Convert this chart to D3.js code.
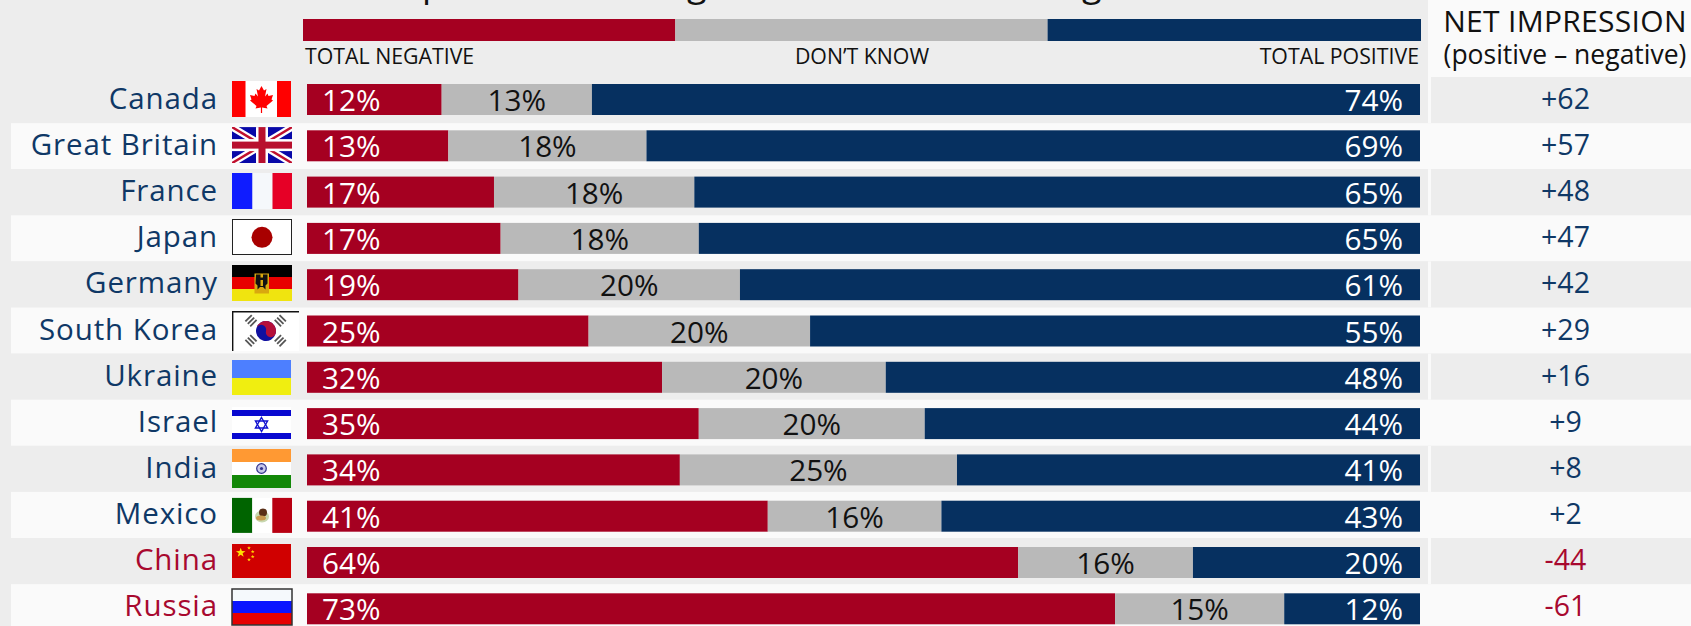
<!DOCTYPE html>
<html>
<head>
<meta charset="utf-8">
<script src="https://cdn.jsdelivr.net/npm/d3@7"></script>
<style>
html, body { margin: 0; padding: 0; background: #ededed; overflow: hidden; }
text { font-family: "Open Sans", sans-serif; }
</style>
</head>
<body>
<svg id="chart" width="1691" height="626"></svg>
<script>
var countries = ["Canada", "Great Britain", "France", "Japan", "Germany", "South Korea", "Ukraine", "Israel", "India", "Mexico", "China", "Russia"];
var negative = [12.1, 12.7, 16.8, 17.4, 19.0, 25.3, 31.9, 35.2, 33.5, 41.4, 63.9, 72.6];
var dontKnow = [13.5, 17.8, 18.0, 17.8, 19.9, 19.9, 20.1, 20.3, 24.9, 15.6, 15.7, 15.2];
var positive = [74.4, 69.5, 65.2, 64.8, 61.1, 54.8, 48.0, 44.5, 41.6, 43.0, 20.4, 12.2];
var negLabels = [12, 13, 17, 17, 19, 25, 32, 35, 34, 41, 64, 73];
var dkLabels = [13, 18, 18, 18, 20, 20, 20, 20, 25, 16, 16, 15];
var posLabels = [74, 69, 65, 65, 61, 55, 48, 44, 41, 43, 20, 12];
var net = [62, 57, 48, 47, 42, 29, 16, 9, 8, 2, -44, -61];
var legendValues = [33.3, 33.3, 33.4];
var legendLabels = ["TOTAL NEGATIVE", "DON\u2019T KNOW", "TOTAL POSITIVE"];

var RED = "#a50021", GREY = "#b9b9b9", BLUE = "#063060", NAVY = "#0f3866", DARKRED = "#a8092f";

var svg = d3.select("#chart");

var x = d3.scaleLinear().domain([0, 100]).range([307, 1420]);
var xLegend = d3.scaleLinear().domain([0, 100]).range([303, 1421]);
var yBand = d3.scaleBand().domain(countries).range([77, 77 + 12 * 46.1]);
var yBar = d3.scaleBand().domain(countries).range([84, 84 + 12 * 46.3]);
var barH = 31;

// top right white panel + white rows
svg.append("rect").attr("x", 1428).attr("y", 0).attr("width", 263).attr("height", 77).attr("fill", "#fafafa");

svg.selectAll(".row").data(countries).enter().append("rect")
    .attr("class", "row")
    .attr("x", 11).attr("y", function(d){ return yBand(d) })
    .attr("width", 1680).attr("height", yBand.bandwidth())
    .attr("fill", function(d, i){ return i % 2 ? "#fafafa" : "#ededed" });

// gap in front of net column on the grey rows
svg.selectAll(".gap").data(countries.filter(function(d, i){ return i % 2 == 0 })).enter().append("rect")
    .attr("class", "gap")
    .attr("x", 1428).attr("y", function(d){ return yBand(d) })
    .attr("width", 3).attr("height", yBand.bandwidth())
    .attr("fill", "#fafafa");

// title, cropped by the top of the picture: only these descenders show
[["p", 422], ["g", 687], ["g", 1082]].forEach(function(t){
    svg.append("text").attr("x", t[1]).attr("y", -4).attr("font-size", 36).attr("fill", "#111").text(t[0]);
});

// legend bar
var legendX = 0;
legendValues.forEach(function(v, i){
    svg.append("rect")
        .attr("x", xLegend(legendX)).attr("y", 19)
        .attr("width", xLegend(legendX + v) - xLegend(legendX)).attr("height", 22)
        .attr("fill", [RED, GREY, BLUE][i]);
    legendX += v;
});

svg.selectAll(".legendLabel").data(legendLabels).enter().append("text")
    .attr("class", "legendLabel")
    .attr("x", function(d, i){ return [305, 862, 1419][i] })
    .attr("y", 64)
    .attr("text-anchor", function(d, i){ return ["start", "middle", "end"][i] })
    .attr("font-size", 21.3)
    .attr("fill", "#111")
    .text(function(d){ return d });

// net header
svg.append("text").attr("x", 1565).attr("y", 32).attr("text-anchor", "middle").attr("font-size", 30).attr("letter-spacing", 0.3).attr("fill", "#111").text("NET IMPRESSION");
svg.append("text").attr("x", 1565).attr("y", 64).attr("text-anchor", "middle").attr("font-size", 26.5).attr("fill", "#111").text("(positive \u2013 negative)");

// bars
var rows = svg.selectAll(".bars").data(countries).enter().append("g").attr("class", "bars");

rows.append("rect")
    .attr("x", x(0)).attr("y", function(d){ return yBar(d) })
    .attr("width", function(d, i){ return x(negative[i]) - x(0) })
    .attr("height", barH).attr("fill", RED);

rows.append("rect")
    .attr("x", function(d, i){ return x(negative[i]) }).attr("y", function(d){ return yBar(d) })
    .attr("width", function(d, i){ return x(negative[i] + dontKnow[i]) - x(negative[i]) })
    .attr("height", barH).attr("fill", GREY);

rows.append("rect")
    .attr("x", function(d, i){ return x(100 - positive[i]) }).attr("y", function(d){ return yBar(d) })
    .attr("width", function(d, i){ return x(100) - x(100 - positive[i]) })
    .attr("height", barH).attr("fill", BLUE);

var labelY = function(d){ return yBar(d) + 27 };

rows.append("text")
    .attr("x", 322).attr("y", labelY)
    .attr("font-size", 29.7).attr("fill", "#fff")
    .text(function(d, i){ return negLabels[i] + "%" });

rows.append("text")
    .attr("x", function(d, i){ return x(negative[i] + dontKnow[i] / 2) }).attr("y", labelY)
    .attr("text-anchor", "middle")
    .attr("font-size", 29.7).attr("fill", "#111")
    .text(function(d, i){ return dkLabels[i] + "%" });

rows.append("text")
    .attr("x", 1403).attr("y", labelY)
    .attr("text-anchor", "end")
    .attr("font-size", 29.7).attr("fill", "#fff")
    .text(function(d, i){ return posLabels[i] + "%" });

// country names
rows.append("text")
    .attr("x", 218).attr("y", function(d){ return yBand(d) + 32 })
    .attr("text-anchor", "end")
    .attr("font-size", 29.5)
    .attr("letter-spacing", 0.9)
    .attr("fill", function(d, i){ return net[i] < 0 ? DARKRED : NAVY })
    .text(function(d){ return d });

// net column
rows.append("text")
    .attr("x", 1565.5).attr("y", function(d){ return yBand(d) + 32 })
    .attr("text-anchor", "middle")
    .attr("font-size", 28.5)
    .attr("fill", function(d, i){ return net[i] < 0 ? DARKRED : NAVY })
    .text(function(d, i){ return net[i] < 0 ? String(net[i]) : "+" + net[i] });

// flags
function starPoints(cx, cy, r, rot) {
    var pts = [];
    for (var k = 0; k < 10; k++) {
        var rad = k % 2 ? r * 0.4 : r;
        var a = -Math.PI / 2 + k * Math.PI / 5 + (rot || 0);
        pts.push((cx + rad * Math.cos(a)) + "," + (cy + rad * Math.sin(a)));
    }
    return pts.join(" ");
}

function box(g, x0, y0, w, h, fill) {
    return g.append("rect").attr("x", x0).attr("y", y0).attr("width", w).attr("height", h).attr("fill", fill);
}

function drawCanada(g) {
    box(g, 0, 0, 59, 36, "#fff");
    box(g, 0, 0, 13.5, 36, "#ff0000");
    box(g, 45, 0, 14, 36, "#ff0000");
    var leaf = [[0,-13.5],[-2.5,-9],[-5,-10.5],[-3.5,-3],[-6,-6],[-7,-3.5],[-11.5,-4.5],[-10,0],[-11.5,1],[-5,6.5],[-6,9],[-0.6,8],[-0.6,13.5],[0.6,13.5],[0.6,8],[6,9],[5,6.5],[11.5,1],[10,0],[11.5,-4.5],[7,-3.5],[6,-6],[3.5,-3],[5,-10.5],[2.5,-9]];
    g.append("polygon").attr("transform", "translate(29.5,18.5)").attr("fill", "#ff0000").attr("points", leaf.join(" "));
}

function drawBritain(g) {
    box(g, 0, 0, 60, 36, "#0808a8");
    var diag = "M0,0L60,36M60,0L0,36";
    g.append("path").attr("d", diag).attr("stroke", "#fff").attr("stroke-width", 7);
    g.append("path").attr("d", diag).attr("stroke", "#c0102e").attr("stroke-width", 2.5);
    box(g, 24, 0, 12, 36, "#fff");
    box(g, 0, 12, 60, 12, "#fff");
    box(g, 26.5, 0, 7, 36, "#b8102e");
    box(g, 0, 14.5, 60, 7, "#b8102e");
}

function drawFrance(g) {
    box(g, 0, 0, 20.5, 36, "#0f1cff");
    box(g, 20.5, 0, 20, 36, "#f5f8fb");
    box(g, 40.5, 0, 19.5, 36, "#e60026");
}

function drawJapan(g) {
    g.append("rect").attr("x", 0.5).attr("y", 0.5).attr("width", 59).attr("height", 35).attr("fill", "#fff").attr("stroke", "#222").attr("stroke-width", 1);
    g.append("circle").attr("cx", 30).attr("cy", 18.3).attr("r", 10.5).attr("fill", "#a80000");
}

function drawGermany(g) {
    box(g, 0, 0, 60, 12, "#000");
    box(g, 0, 12, 60, 12, "#e80000");
    box(g, 0, 24, 60, 12, "#f0e40f");
    box(g, 22.5, 8.5, 14.5, 20, "#d9a80f");
    g.append("path").attr("fill", "#111").attr("d", "M24,9.5h4.5v3h2.5v-3h4.5v9l-2,2v4l-2.5,-2.5h-3l-2.5,2.5v-4l-2,-2z");
    box(g, 28.5, 15, 2.5, 6, "#d9a80f");
}

function drawKorea(g) {
    box(g, 0, 0, 67, 40, "#fff");
    g.append("path").attr("d", "M0.7,40V0.7H67").attr("fill", "none").attr("stroke", "#111").attr("stroke-width", 1.4);
    var t = g.append("g").attr("transform", "translate(34,20) rotate(15)");
    t.append("circle").attr("r", 10).attr("fill", "#1010a0");
    t.append("path").attr("fill", "#b50f3a").attr("d", "M-10,0A10,10 0 0 1 10,0A5,5 0 0 1 0,0A5,5 0 0 0 -10,0Z");
    [[19, 9.7, -45], [48.3, 9.7, 45], [19, 29.7, 45], [48.3, 29.7, -45]].forEach(function(b){
        var tri = g.append("g").attr("transform", "translate(" + b[0] + "," + b[1] + ") rotate(" + b[2] + ")");
        [-3.4, 0, 3.4].forEach(function(off){
            box(tri, -4.5, off - 0.9, 9, 1.8, "#555");
        });
    });
}

function drawUkraine(g) {
    box(g, 0, 0, 59, 18, "#4d7fff");
    box(g, 0, 18, 59, 17, "#f0ee10");
}

function drawIsrael(g) {
    box(g, 0, 0, 59, 32, "#fff");
    box(g, 0, 3, 59, 6, "#0808d0");
    box(g, 0, 26, 59, 6, "#0808d0");
    var r = 7, tri = function(a){
        return d3.range(3).map(function(k){
            var ang = a + k * 2 * Math.PI / 3;
            return (29.5 + r * Math.cos(ang)) + "," + (17.5 + r * Math.sin(ang));
        }).join(" ");
    };
    [-Math.PI / 2, Math.PI / 2].forEach(function(a){
        g.append("polygon").attr("points", tri(a)).attr("fill", "none").attr("stroke", "#1010d0").attr("stroke-width", 1.4);
    });
}

function drawIndia(g) {
    box(g, 0, 0, 59, 13, "#ff9933");
    box(g, 0, 13, 59, 13, "#fff");
    box(g, 0, 26, 59, 13, "#138808");
    g.append("circle").attr("cx", 29.5).attr("cy", 19.5).attr("r", 4.8).attr("fill", "#c8c8ea").attr("stroke", "#30308a").attr("stroke-width", 1.2);
    g.append("circle").attr("cx", 29.5).attr("cy", 19.5).attr("r", 1.6).attr("fill", "#30308a");
}

function drawMexico(g) {
    box(g, 0, 0, 20.3, 35, "#006400");
    box(g, 20.3, 0, 20, 35, "#fff");
    box(g, 40.3, 0, 19.7, 35, "#b80012");
    g.append("ellipse").attr("cx", 30).attr("cy", 18.5).attr("rx", 7).attr("ry", 6).attr("fill", "#c8d8b0");
    g.append("ellipse").attr("cx", 31).attr("cy", 14.5).attr("rx", 4).attr("ry", 4).attr("fill", "#5a3018");
    g.append("ellipse").attr("cx", 29).attr("cy", 20).attr("rx", 5).attr("ry", 2.5).attr("fill", "#c89a50");
}

function drawChina(g) {
    box(g, 0, 0, 59, 34, "#d00000");
    g.append("polygon").attr("points", starPoints(8.7, 8.7, 5)).attr("fill", "#ffe000");
    [[17, 4], [20.7, 7.7], [20.7, 12.7], [17, 15.7]].forEach(function(s){
        g.append("polygon").attr("points", starPoints(s[0], s[1], 2)).attr("fill", "#ffd000");
    });
}

function drawRussia(g) {
    box(g, 0, 0, 60, 36, "#f5f9fc");
    box(g, 0, 12, 60, 12, "#0a14ff");
    box(g, 0, 24, 60, 12, "#e60000");
    g.append("rect").attr("x", 0).attr("y", 0).attr("width", 60).attr("height", 36).attr("fill", "none").attr("stroke", "#333").attr("stroke-width", 1.5);
}

var flagDraw = [drawCanada, drawBritain, drawFrance, drawJapan, drawGermany, drawKorea, drawUkraine, drawIsrael, drawIndia, drawMexico, drawChina, drawRussia];
var flagDy = [4, 4, 3.8, 3.7, 3.6, 3.5, 6.4, 7.3, 3.2, 6, 6, 4.9];

svg.append("clipPath").attr("id", "ukClip").append("rect").attr("width", 60).attr("height", 36);

countries.forEach(function(c, i){
    var g = svg.append("g")
        .attr("class", "flag")
        .attr("transform", "translate(232," + (yBand(c) + flagDy[i]) + ")");
    if (c == "Great Britain") g.attr("clip-path", "url(#ukClip)");
    flagDraw[i](g);
});
</script>
</body>
</html>
